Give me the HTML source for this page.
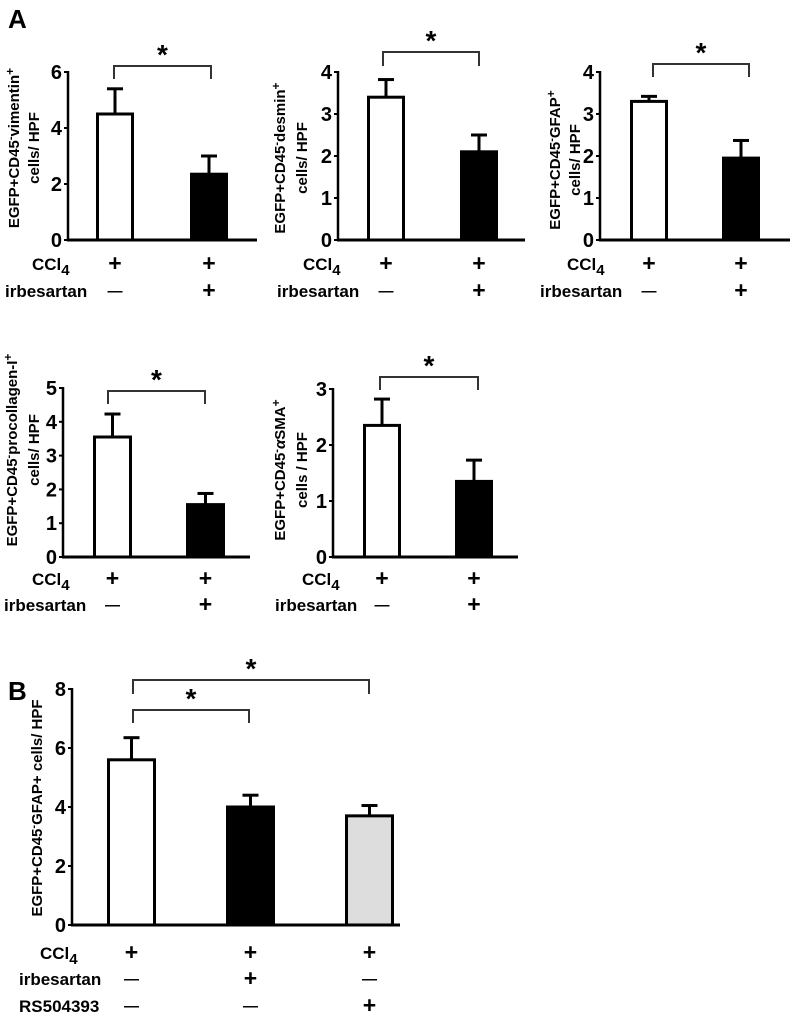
<!DOCTYPE html>
<html><head><meta charset="utf-8"><style>
html,body{margin:0;padding:0;background:#fff;}
svg{display:block;font-family:"Liberation Sans",Arial,sans-serif;font-weight:bold;}
</style></head><body>
<svg id="fig" width="799" height="1019" viewBox="0 0 799 1019">
<text x="8" y="28" font-size="26">A</text>
<text x="8" y="700" font-size="26">B</text>
</svg>
<script>
// Panel data
const p1Values = [4.5, 2.35];
const p1Errors = [0.9, 0.65];
const p1Ticks = [0, 2, 4, 6];
const p2Values = [3.4, 2.1];
const p2Errors = [0.42, 0.4];
const p2Ticks = [0, 1, 2, 3, 4];
const p3Values = [3.3, 1.95];
const p3Errors = [0.12, 0.42];
const p3Ticks = [0, 1, 2, 3, 4];
const p4Values = [3.55, 1.55];
const p4Errors = [0.68, 0.33];
const p4Ticks = [0, 1, 2, 3, 4, 5];
const p5Values = [2.35, 1.35];
const p5Errors = [0.47, 0.38];
const p5Ticks = [0, 1, 2, 3];
const pBValues = [5.6, 4.0, 3.7];
const pBErrors = [0.75, 0.4, 0.35];
const pBTicks = [0, 2, 4, 6, 8];
const rowsA = [["CCl4", ["+", "+"]], ["irbesartan", ["\u2014", "+"]]];
const rowsB = [["CCl4", ["+", "+", "+"]], ["irbesartan", ["\u2014", "+", "\u2014"]], ["RS504393", ["\u2014", "\u2014", "+"]]];

const NS = "http://www.w3.org/2000/svg";
const svg = document.getElementById("fig");
function mk(tag, attrs, parent, text) {
  const e = document.createElementNS(NS, tag);
  for (const k in attrs) e.setAttribute(k, attrs[k]);
  if (text !== undefined) e.textContent = text;
  (parent || svg).appendChild(e);
  return e;
}
function panel(cfg) {
  const g = mk("g", {});
  
  
  const max = cfg.ticks[cfg.ticks.length - 1];
  const y = v => cfg.y0 - (v / max) * (cfg.y0 - cfg.yTop);
  cfg.values.forEach((v, i) => {
    const x0 = cfg.barX[i], w = cfg.barW;
    const e = cfg.errors[i];
    const ln = mk("line", {x1: x0 + w / 2, x2: x0 + w / 2, y1: y(v), y2: y(v + e), stroke: "#000", "stroke-width": 3}, g);
    
    
    const cap = mk("line", {x1: x0 + w / 2 - 8, x2: x0 + w / 2 + 8, y1: y(v + e), y2: y(v + e), stroke: "#000", "stroke-width": 3}, g);
    
    
    const r = mk("rect", {x: x0 + 1.5, y: y(v), width: w - 3, height: cfg.y0 - y(v), fill: cfg.fills[i], stroke: "#000", "stroke-width": 3}, g);
    
    
  });
  const ya = mk("line", {x1: cfg.ax, x2: cfg.ax, y1: cfg.yTop - 1, y2: cfg.y0, stroke: "#000", "stroke-width": 2.5}, g);
  
  
  const xa = mk("line", {x1: cfg.ax - 1, x2: cfg.axEnd, y1: cfg.y0, y2: cfg.y0, stroke: "#000", "stroke-width": 3}, g);
  
  
  cfg.ticks.forEach(t => {
    mk("line", {x1: cfg.ax - 4, x2: cfg.ax, y1: y(t), y2: y(t), stroke: "#000", "stroke-width": 2}, g);
    const tl = mk("text", {x: cfg.ax - 6, y: y(t) + 7, "font-size": 20, "text-anchor": "end"}, g, String(t));
    
    
  });
  cfg.title.forEach((line, i) => {
    const tt = mk("text", {x: 0, y: 0, "font-size": 15, "text-anchor": "middle",
      transform: `translate(${cfg.titleX[i]},${cfg.titleY}) rotate(-90)`}, g);
    tt.innerHTML = line;
    
    
  });
  cfg.brackets.forEach(b => {
    const p = mk("path", {d: `M${b.x1},${b.t} V${b.y} H${b.x2} V${b.t}`, fill: "none", stroke: "#333", "stroke-width": 2}, g);
    
    
    const s = mk("text", {x: (b.x1 + b.x2) / 2, y: b.y - 2, "font-size": 28, "text-anchor": "middle"}, g, "*");
    
    
  });
  cfg.rows.forEach((row, ri) => {
    const yy = cfg.rowY[ri];
    const lbl = mk("text", {x: cfg.labelX[ri], y: yy, "font-size": 17}, g);
    if (row[0] === "CCl4") lbl.innerHTML = 'CCl<tspan font-size="15" dy="5">4</tspan>';
    else lbl.textContent = row[0];
    
    
    row[1].forEach((s, i) => {
      const m = mk("text", {x: cfg.barX[i] + cfg.barW / 2, y: s === "+" ? yy + 1 : yy - 1, "font-size": s === "+" ? 23 : 15, "text-anchor": "middle"}, g, s);
      
      
    });
  });
}
panel({name: "panel-vimentin", values: p1Values, errors: p1Errors, ticks: p1Ticks, fills: ["#fff", "#000"],
  ax: 68, axEnd: 257, y0: 240, yTop: 72, barX: [96, 190], barW: 38,
  title: ['EGFP+CD45<tspan dy="-5" font-size="11">-</tspan><tspan dy="5">vimentin</tspan><tspan dy="-5" font-size="12">+</tspan>', 'cells/ HPF'],
  titleX: [19, 39], titleY: 148,
  brackets: [{x1: 114, x2: 211, y: 66, t: 79}],
  rows: rowsA, rowY: [270, 297], labelX: [32, 5]});
panel({name: "panel-desmin", values: p2Values, errors: p2Errors, ticks: p2Ticks, fills: ["#fff", "#000"],
  ax: 338, axEnd: 525, y0: 240, yTop: 72, barX: [367, 460], barW: 38,
  title: ['EGFP+CD45<tspan dy="-5" font-size="11">-</tspan><tspan dy="5">desmin</tspan><tspan dy="-5" font-size="12">+</tspan>', 'cells/ HPF'],
  titleX: [285, 307], titleY: 158,
  brackets: [{x1: 383, x2: 479, y: 52, t: 66}],
  rows: rowsA, rowY: [270, 297], labelX: [303, 277]});
panel({name: "panel-gfap", values: p3Values, errors: p3Errors, ticks: p3Ticks, fills: ["#fff", "#000"],
  ax: 600, axEnd: 790, y0: 240, yTop: 72, barX: [630, 722], barW: 38,
  title: ['EGFP+CD45<tspan dy="-5" font-size="11">-</tspan><tspan dy="5">GFAP</tspan><tspan dy="-5" font-size="12">+</tspan>', 'cells/ HPF'],
  titleX: [560, 580], titleY: 160,
  brackets: [{x1: 653, x2: 749, y: 64, t: 77}],
  rows: rowsA, rowY: [270, 297], labelX: [567, 540]});
panel({name: "panel-procollagen", values: p4Values, errors: p4Errors, ticks: p4Ticks, fills: ["#fff", "#000"],
  ax: 63, axEnd: 250, y0: 557, yTop: 388, barX: [93, 186], barW: 39,
  title: ['EGFP+CD45<tspan dy="-5" font-size="11">-</tspan><tspan dy="5">procollagen-I</tspan><tspan dy="-5" font-size="12">+</tspan>', 'cells/ HPF'],
  titleX: [17, 39], titleY: 450,
  brackets: [{x1: 108, x2: 205, y: 391, t: 404}],
  rows: rowsA, rowY: [585, 611], labelX: [32, 4]});
panel({name: "panel-asma", values: p5Values, errors: p5Errors, ticks: p5Ticks, fills: ["#fff", "#000"],
  ax: 333, axEnd: 518, y0: 557, yTop: 389, barX: [363, 455], barW: 38,
  title: ['EGFP+CD45<tspan dy="-5" font-size="11">-</tspan><tspan dy="5" font-style="italic">α</tspan><tspan>SMA</tspan><tspan dy="-5" font-size="12">+</tspan>', 'cells / HPF'],
  titleX: [285, 307], titleY: 470,
  brackets: [{x1: 380, x2: 478, y: 377, t: 390}],
  rows: rowsA, rowY: [585, 611], labelX: [302, 275]});
panel({name: "panel-b-gfap", values: pBValues, errors: pBErrors, ticks: pBTicks, fills: ["#fff", "#000", "#ddd"],
  ax: 72, axEnd: 400, y0: 925, yTop: 689, barX: [107, 226, 345], barW: 49,
  title: ['EGFP+CD45<tspan dy="-5" font-size="11">-</tspan><tspan dy="5">GFAP+ cells/ HPF</tspan>'],
  titleX: [42], titleY: 808,
  brackets: [{x1: 133, x2: 369, y: 680, t: 694}, {x1: 133, x2: 249, y: 710, t: 723}],
  rows: rowsB, rowY: [959, 985, 1012], labelX: [40, 19, 19]});
</script>
</body></html>
